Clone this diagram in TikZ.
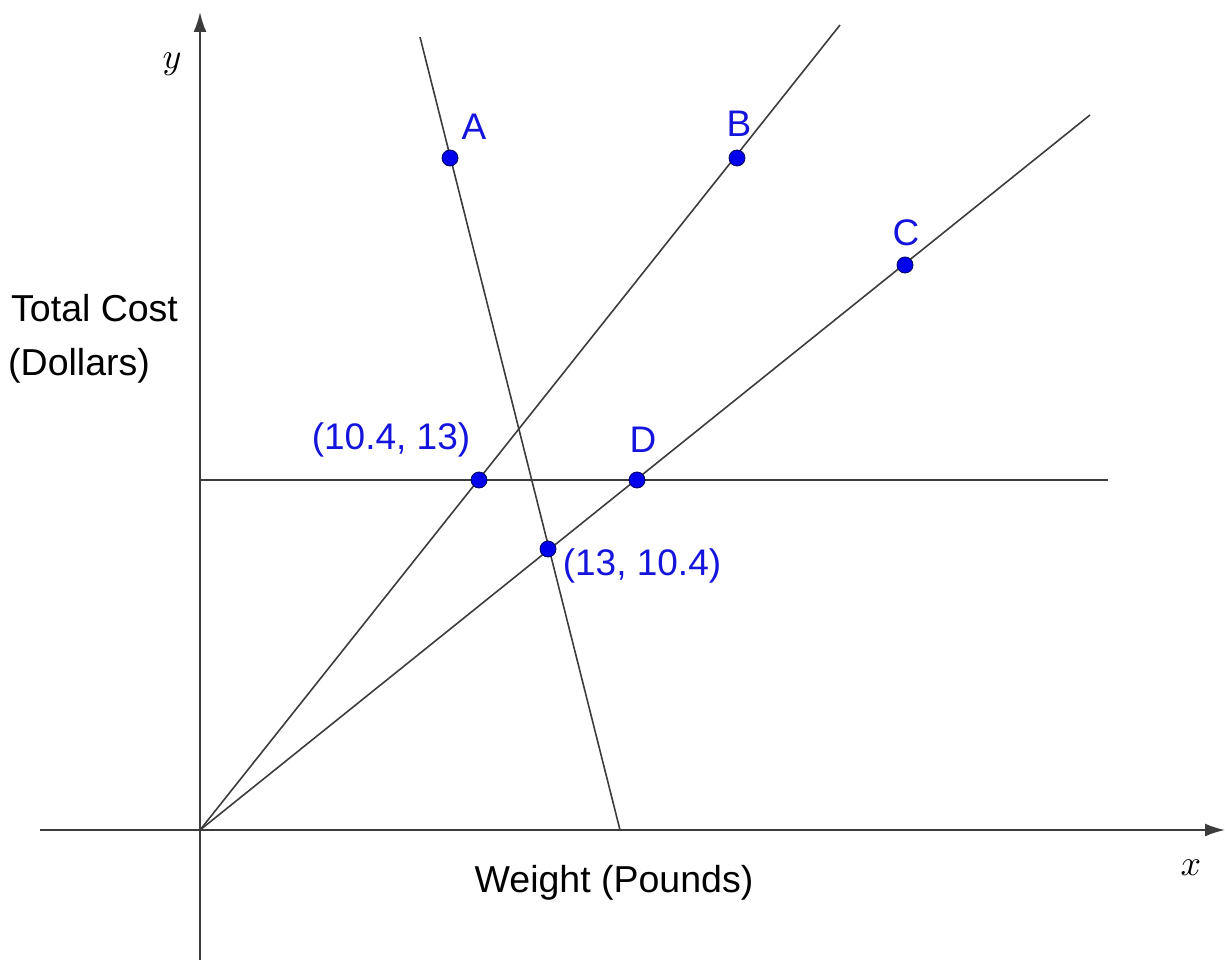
\documentclass[tikz,border=0pt]{standalone}
\usepackage{fontspec}
\setmainfont{Liberation Sans}
\usetikzlibrary{arrows.meta}
\definecolor{ptblue}{RGB}{0,0,235}
\definecolor{lblblue}{RGB}{20,20,220}
\definecolor{linegray}{RGB}{60,60,60}
\begin{document}
\begin{tikzpicture}[x=1pt,y=-1pt,
  ln/.style={draw=linegray,line width=1.6pt},
  ax/.style={draw=linegray,line width=2pt,-{Latex[length=20pt,width=13pt]}},
  pt/.style={circle,fill=ptblue,draw=ptblue!40!black,line width=0.8pt,inner sep=0pt,minimum size=16pt},
  lbl/.style={text=lblblue,font=\fontsize{37}{44}\selectfont,inner sep=0pt},
  txt/.style={text=black,font=\fontsize{37.5}{44}\selectfont,inner sep=0pt},
  mlbl/.style={text=black,inner sep=0pt}]
\useasboundingbox (0,0) rectangle (1225,960);
% coordinates
\coordinate (O) at (200,830);
\coordinate (xs) at (40,830);
\coordinate (xe) at (1225,830);
\coordinate (ys) at (200,960);
\coordinate (ye) at (200,12);
\coordinate (Atop) at (420,37);
\coordinate (Abot) at (620,830);
\coordinate (Bend) at (840,25);
\coordinate (Cend) at (1090,115);
\coordinate (Hs) at (200,480);
\coordinate (He) at (1108,480);
% axes
\draw[ax] (xs) -- (xe);
\draw[ax] (ys) -- (ye);
% lines
\draw[ln] (Atop) -- (Abot);
\draw[ln] (O) -- (Bend);
\draw[ln] (O) -- (Cend);
\draw[ln] (Hs) -- (He);
% points
\node[pt] (A) at (450,158) {};
\node[pt] (B) at (737,158) {};
\node[pt] (C) at (905,265) {};
\node[pt] (P1) at (479,480) {};
\node[pt] (D) at (637,480) {};
\node[pt] (P2) at (548,549) {};
% labels
\node[lbl] (lA) at (474,127) {A};
\node[lbl] (lB) at (739,124) {B};
\node[lbl] (lC) at (906,233) {C};
\node[lbl] (lD) at (643,440) {D};
\node[lbl] (lP1) at (391,440) {(10.4, 13)};
\node[lbl] (lP2) at (642,566) {(13, 10.4)};
\node[txt,anchor=west] (tc) at (11,308) {Total Cost};
\node[txt,anchor=west] (dl) at (8,366) {(Dollars)};
\node[txt] (wp) at (614,883) {Weight (Pounds)};
\node[mlbl] (ly) at (172,64) {\scalebox{3.6}{$y$}};
\node[mlbl] (lx) at (1191,868) {\scalebox{3.6}{$x$}};
\end{tikzpicture}
\end{document}
